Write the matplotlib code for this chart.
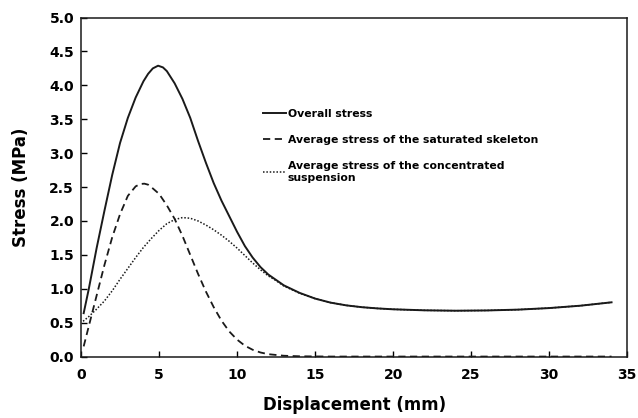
import matplotlib
matplotlib.use("Agg")
import matplotlib.pyplot as plt

plt.rcParams['font.family'] = ['DejaVu Sans']
plt.rcParams['font.weight'] = 'bold'

# Datos (desplazamiento en mm, esfuerzo en MPa)
x_overall = [0.17, 0.5, 1.0, 1.5, 2.0, 2.5, 3.0, 3.5, 4.0, 4.3, 4.6, 4.94, 5.25, 5.5,
             6.0, 6.5, 7.0, 7.5, 8.0, 8.5, 9.0, 9.5, 10.0, 10.5, 11.0, 11.5, 12.0, 12.5,
             13.0, 14.0, 15.0, 16.0, 17.0, 18.0, 19.0, 20.0, 22.0, 24.0, 26.0, 28.0,
             30.0, 32.0, 34.0]
y_overall = [0.64, 1.0, 1.6, 2.15, 2.68, 3.15, 3.52, 3.82, 4.06, 4.17, 4.25, 4.29, 4.265,
             4.21, 4.03, 3.8, 3.52, 3.18, 2.86, 2.56, 2.3, 2.07, 1.84, 1.63, 1.46, 1.32,
             1.21, 1.13, 1.05, 0.94, 0.855, 0.795, 0.755, 0.728, 0.71, 0.697, 0.682,
             0.676, 0.68, 0.692, 0.715, 0.75, 0.80]

x_skeleton = [0.17, 0.5, 1.0, 1.5, 2.0, 2.5, 3.0, 3.5, 3.8, 4.06, 4.3, 4.6, 5.0, 5.5,
              6.0, 6.5, 7.0, 7.5, 8.0, 8.5, 9.0, 9.5, 10.0, 10.5, 11.0, 11.5, 12.0,
              13.0, 14.0, 16.0, 20.0, 25.0, 30.0, 34.0]
y_skeleton = [0.15, 0.45, 0.9, 1.35, 1.76, 2.1, 2.37, 2.51, 2.545, 2.55, 2.535, 2.48,
              2.4, 2.23, 2.03, 1.78, 1.5, 1.22, 0.96, 0.73, 0.53, 0.37, 0.25, 0.16, 0.1,
              0.06, 0.035, 0.012, 0.004, 0.0, 0.0, 0.0, 0.0, 0.0]

x_suspension = [0.13, 0.5, 1.0, 1.5, 2.0, 2.5, 3.0, 3.5, 4.0, 4.5, 5.0, 5.5, 6.0, 6.5,
                7.0, 7.5, 8.0, 8.5, 9.0, 9.5, 10.0, 10.5, 11.0, 11.5, 12.0, 12.5, 13.0,
                14.0, 15.0, 16.0, 17.0, 18.0, 19.0, 20.0, 22.0, 24.0, 26.0, 28.0, 30.0,
                32.0, 34.0]
y_suspension = [0.52, 0.59, 0.7, 0.82, 0.97, 1.14, 1.3, 1.46, 1.61, 1.74, 1.86, 1.96,
                2.02, 2.05, 2.04, 2.0, 1.94, 1.87, 1.79, 1.7, 1.6, 1.49, 1.38, 1.28, 1.19,
                1.12, 1.04, 0.935, 0.855, 0.795, 0.755, 0.728, 0.71, 0.697, 0.682, 0.676,
                0.68, 0.692, 0.715, 0.75, 0.80]

labels = ['Overall stress',
          'Average stress of the saturated skeleton',
          'Average stress of the concentrated\nsuspension']

fig = plt.figure(figsize=(6.38, 4.18), dpi=100)
ax = fig.add_axes([0.127, 0.147, 0.856, 0.811])

ax.plot(x_overall, y_overall, color='#1a1a1a', lw=1.4, label=labels[0])
ax.plot(x_skeleton, y_skeleton, color='#1a1a1a', lw=1.3, dashes=(4, 2.5), label=labels[1])
ax.plot(x_suspension, y_suspension, color='#1a1a1a', lw=1.1, dashes=(1, 1.2), label=labels[2])

ax.set_xlim(0, 35)
ax.set_ylim(0, 5)
ax.set_xticks(range(0, 36, 5))
ax.set_yticks([i * 0.5 for i in range(11)])
ax.set_yticklabels([f"{i * 0.5:.1f}" for i in range(11)])
ax.tick_params(direction='in', length=4, width=1, labelsize=10)
ax.tick_params(axis='x', pad=8.5)
ax.tick_params(axis='y', pad=5)
for s in ax.spines.values():
    s.set_linewidth(1.1)
    s.set_color('#1a1a1a')

ax.set_xlabel('Displacement (mm)', fontsize=12, fontweight='bold')
ax.set_ylabel('Stress (MPa)', fontsize=12, fontweight='bold')
ax.xaxis.set_label_coords(0.5, -0.115)
ax.yaxis.set_label_coords(-0.093, 0.5)

leg = ax.legend(loc='upper left', bbox_to_anchor=(0.315, 0.76), frameon=False,
                prop={'size': 7.8, 'weight': 'bold'}, handlelength=2.1,
                handletextpad=0.2, labelspacing=1.5)

fig.savefig('out.png', dpi=100)
